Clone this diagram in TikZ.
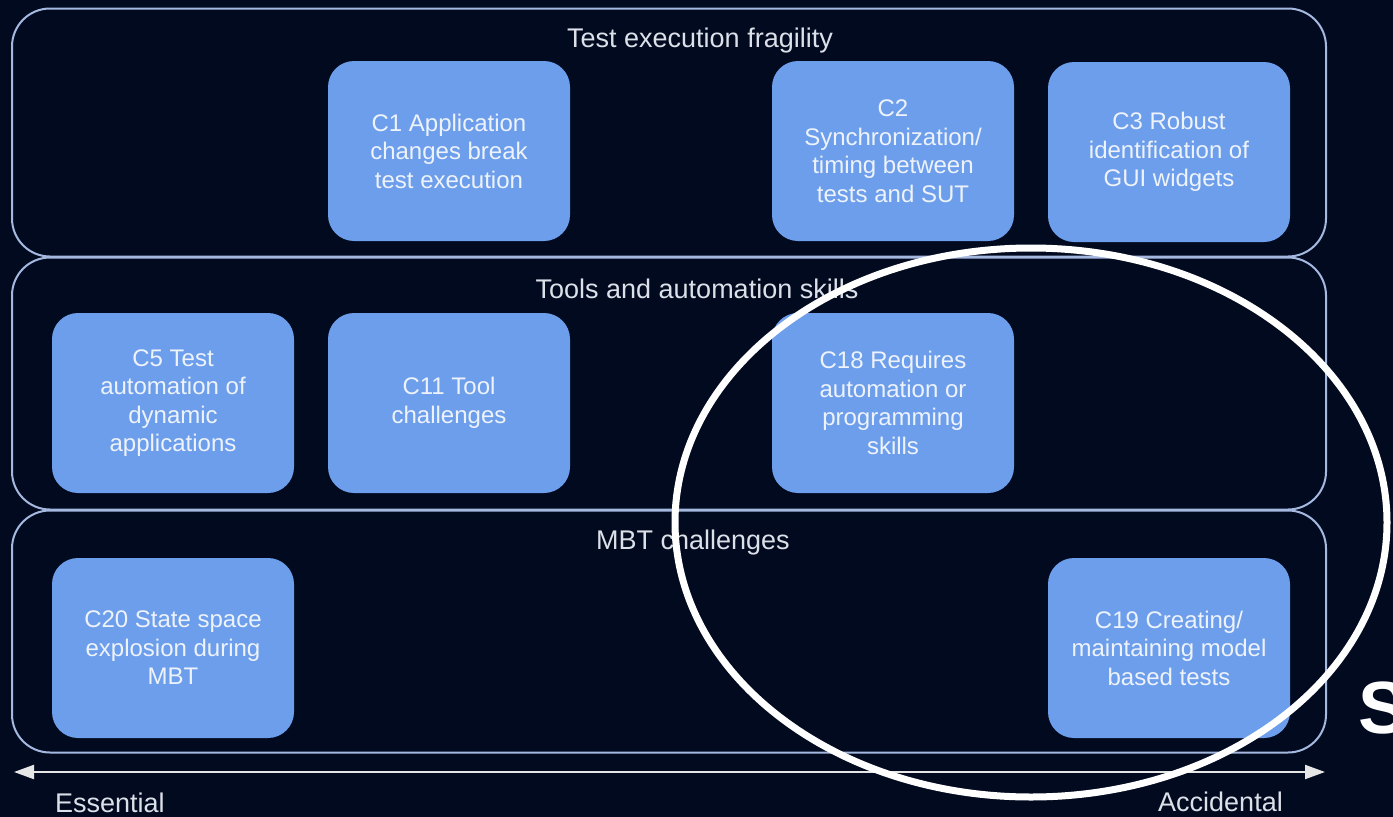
\documentclass[tikz,border=0pt]{standalone}
\usepackage{fontspec}
\setmainfont{Liberation Sans}
\usetikzlibrary{arrows.meta}
\definecolor{bg}{HTML}{020A20}
\definecolor{boxfill}{HTML}{6D9EEB}
\definecolor{boxtext}{HTML}{EEF3FB}
\definecolor{framecol}{HTML}{A5B9E0}
\definecolor{titlecol}{HTML}{DCE0E8}
\definecolor{axiscol}{HTML}{E6E6E6}
\tikzset{
  frame/.style={draw=framecol, line width=2pt, rounded corners=38pt, inner sep=0pt},
  cbox/.style={fill=boxfill, rounded corners=26pt, minimum width=242pt, minimum height=180pt,
    inner sep=0pt, align=center, text=boxtext, font=\fontsize{24pt}{28.5pt}\selectfont},
  ftitle/.style={text=titlecol, font=\fontsize{27pt}{32pt}\selectfont, inner sep=0pt},
  axislabel/.style={text=titlecol, font=\fontsize{27pt}{32pt}\selectfont, inner sep=0pt},
  axisline/.style={draw=axiscol, line width=2.2pt, {Triangle[length=20pt,width=14pt]}-{Triangle[length=20pt,width=14pt]}},
  ring/.style={draw=white, line width=7pt}
}
\begin{document}
\begin{tikzpicture}[x=1pt,y=-1pt]
\fill[bg] (0,0) rectangle (1393,817);
\useasboundingbox (0,0) rectangle (1393,817);
% frames
\node[frame, minimum width=1314pt, minimum height=248pt] (f1) at (669,132.5) {};
\node[frame, minimum width=1314pt, minimum height=252pt] (f2) at (669,383.5) {};
\node[frame, minimum width=1314pt, minimum height=242pt] (f3) at (669,631.5) {};
% titles
\node[ftitle] (t1) at (700,41) {Test execution fragility};
\node[ftitle] (t2) at (697,289) {Tools and automation skills};
\node[ftitle] (t3) at (693,543) {MBT challenges};
% boxes
\node[cbox] (c1) at (449,151) {C1 Application\\changes break\\test execution};
\node[cbox] (c2) at (893,151) {C2\\Synchronization/\\timing between\\tests and SUT};
\node[cbox] (c3) at (1169,152) {C3 Robust\\identification of\\GUI widgets};
\node[cbox] (c5) at (173,403) {C5 Test\\automation of\\dynamic\\applications};
\node[cbox] (c11) at (449,403) {C11 Tool\\challenges};
\node[cbox] (c18) at (893,403) {C18 Requires\\automation or\\programming\\skills};
\node[cbox] (c20) at (173,648) {C20 State space\\explosion during\\MBT};
\node[cbox] (c19) at (1169,648) {C19 Creating/\\maintaining model\\based tests};
% axis
\coordinate (aL) at (14,772);
\coordinate (aR) at (1325,772);
\draw[axisline] (aL) -- (aR);
\node[axislabel, anchor=base west] (ess) at (55,812) {Essential};
\node[axislabel, anchor=base west] (acc) at (1158,811) {Accidental};
% ring
\draw[ring] (1031,522.5) ellipse [x radius=356pt, y radius=274.5pt];
\node[anchor=base west, inner sep=0pt, text=white, font=\bfseries\fontsize{74pt}{80pt}\selectfont] (s) at (1358,733) {S};
\end{tikzpicture}
\end{document}
